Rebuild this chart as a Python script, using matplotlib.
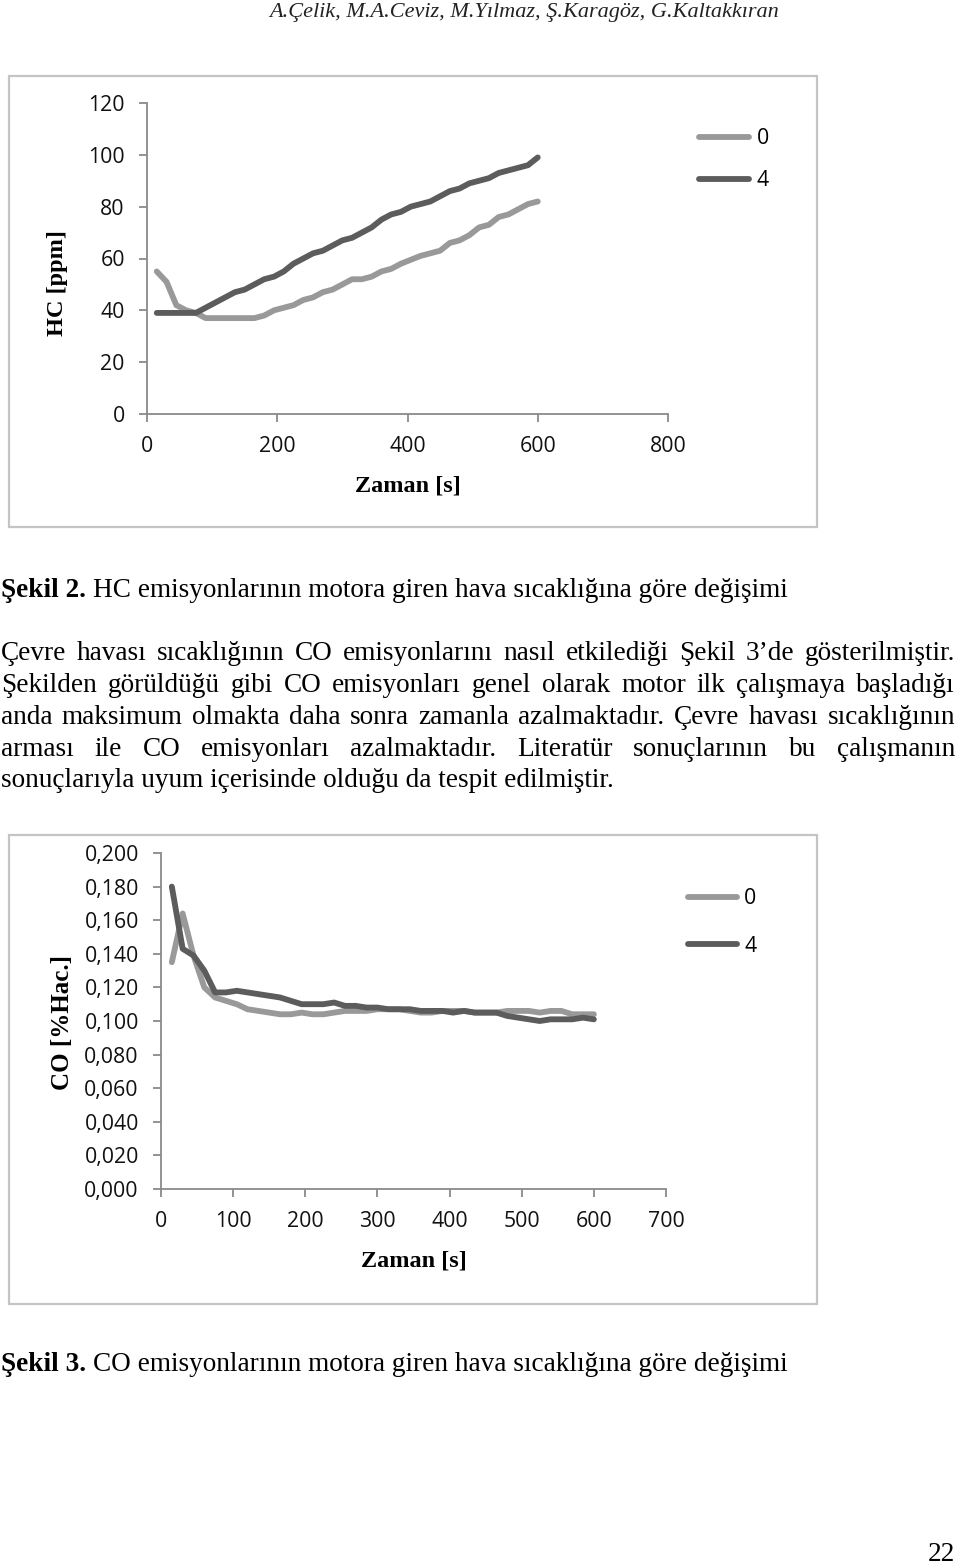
import matplotlib
matplotlib.use("Agg")
import matplotlib.pyplot as plt
from matplotlib.patches import Rectangle

# ---------------- data ----------------
time_s = [15, 30, 45, 60, 75, 90, 105, 120, 135, 150, 165, 180, 195, 210, 225,
          240, 255, 270, 285, 300, 315, 330, 345, 360, 375, 390, 405, 420, 435,
          450, 465, 480, 495, 510, 525, 540, 555, 570, 585, 600]

hc_0 = [55, 51, 42, 40, 39, 37, 37, 37, 37, 37, 37, 38, 40, 41, 42, 44, 45, 47,
        48, 50, 52, 52, 53, 55, 56, 58, 59.5, 61, 62, 63, 66, 67, 69, 72, 73, 76,
        77, 79, 81, 82]
hc_4 = [39, 39, 39, 39, 39, 41, 43, 45, 47, 48, 50, 52, 53, 55, 58, 60, 62, 63,
        65, 67, 68, 70, 72, 75, 77, 78, 80, 81, 82, 84, 86, 87, 89, 90, 91, 93,
        94, 95, 96, 99]

co_0 = [0.135, 0.164, 0.139, 0.120, 0.114, 0.112, 0.110, 0.107, 0.106, 0.105,
        0.104, 0.104, 0.105, 0.104, 0.104, 0.105, 0.106, 0.106, 0.106, 0.107,
        0.107, 0.107, 0.106, 0.105, 0.105, 0.106, 0.106, 0.106, 0.105, 0.105,
        0.105, 0.106, 0.106, 0.106, 0.105, 0.106, 0.106, 0.104, 0.104, 0.104]
co_4 = [0.180, 0.143, 0.139, 0.130, 0.117, 0.117, 0.118, 0.117, 0.116, 0.115,
        0.114, 0.112, 0.110, 0.110, 0.110, 0.111, 0.109, 0.109, 0.108, 0.108,
        0.107, 0.107, 0.107, 0.106, 0.106, 0.106, 0.105, 0.106, 0.105, 0.105,
        0.105, 0.103, 0.102, 0.101, 0.100, 0.101, 0.101, 0.101, 0.102, 0.101]

series_labels = ["0", "4"]

hc_xticks = [0, 200, 400, 600, 800]
hc_yticks = [0, 20, 40, 60, 80, 100, 120]
co_xticks = [0, 100, 200, 300, 400, 500, 600, 700]
co_yticks = [0.0, 0.02, 0.04, 0.06, 0.08, 0.10, 0.12, 0.14, 0.16, 0.18, 0.20]
co_yticklabels = ["0,000", "0,020", "0,040", "0,060", "0,080", "0,100",
                  "0,120", "0,140", "0,160", "0,180", "0,200"]

header = "A.Çelik, M.A.Ceviz, M.Yılmaz, Ş.Karagöz, G.Kaltakkıran"
cap2_bold = "Şekil 2."
cap2_rest = "HC emisyonlarının motora giren hava sıcaklığına göre değişimi"
cap3_bold = "Şekil 3."
cap3_rest = "CO emisyonlarının motora giren hava sıcaklığına göre değişimi"
para_lines = [
    "Çevre havası sıcaklığının CO emisyonlarını nasıl etkilediği Şekil 3’de gösterilmiştir.",
    "Şekilden görüldüğü gibi CO emisyonları genel olarak motor ilk çalışmaya başladığı",
    "anda maksimum olmakta daha sonra zamanla azalmaktadır. Çevre havası sıcaklığının",
    "arması ile CO emisyonları azalmaktadır. Literatür sonuçlarının bu çalışmanın",
    "sonuçlarıyla uyum içerisinde olduğu da tespit edilmiştir.",
]
page_no = "22"

# ---------------- styling ----------------
W, H = 960, 1565
LIGHT = "#999999"
DARK = "#5c5c5c"
AXC = "#8a8a8a"
BOXC = "#c4c4c4"
SERIF = "Liberation Serif"
SANS = "Open Sans"
TICK_FS = 15.3
BODY_FS = 19.6
LW = 4.2

fig = plt.figure(figsize=(W / 100, H / 100), dpi=100)
renderer = fig.canvas.get_renderer()


def fx(px):
    return px / W


def fy(py):
    return 1 - py / H


def add_box(x0, y0, x1, y1):
    fig.patches.append(Rectangle((fx(x0), fy(y1)), fx(x1) - fx(x0), fy(y0) - fy(y1),
                                 transform=fig.transFigure, fill=False,
                                 edgecolor=BOXC, linewidth=1.6, zorder=0))


def make_axes(l, t, r, b):
    ax = fig.add_axes([fx(l), fy(b), fx(r) - fx(l), fy(t) - fy(b)])
    for s in ("top", "right"):
        ax.spines[s].set_visible(False)
    for s in ("left", "bottom"):
        ax.spines[s].set_color(AXC)
        ax.spines[s].set_linewidth(1.3)
    ax.tick_params(direction="out", length=6, width=1.3, color=AXC,
                   labelsize=TICK_FS, labelcolor="#111111", pad=10)
    return ax


def style_ticklabels(ax):
    for lab in ax.get_xticklabels() + ax.get_yticklabels():
        lab.set_fontfamily(SANS)
        lab.set_fontsize(TICK_FS)


line_kw = dict(lw=LW, solid_joinstyle="round", solid_capstyle="round")

# ---------------- HC chart ----------------
add_box(9, 76, 817, 527)
ax1 = make_axes(147, 103, 668, 414)
ax1.plot(time_s, hc_0, color=LIGHT, label=series_labels[0], **line_kw)
ax1.plot(time_s, hc_4, color=DARK, label=series_labels[1], **line_kw)
ax1.set_xlim(0, 800)
ax1.set_ylim(0, 120)
ax1.set_xticks(hc_xticks)
ax1.set_yticks(hc_yticks)
style_ticklabels(ax1)
ax1.set_xlabel("Zaman [s]", fontfamily=SERIF, fontweight="bold", fontsize=17.5,
               labelpad=13)
ax1.set_ylabel("HC [ppm]", fontfamily=SERIF, fontweight="bold", fontsize=17.5,
               va="center")
ax1.yaxis.set_label_coords((57 - 147) / 521, (414 - 283) / 311)
ax1.legend(loc="upper left", bbox_to_anchor=(fx(699), fy(128)),
           bbox_transform=fig.transFigure, frameon=False,
           handlelength=2.35, handletextpad=0.35, labelspacing=1.0,
           borderpad=0, borderaxespad=0,
           prop={"family": SANS, "size": TICK_FS})

# ---------------- CO chart ----------------
add_box(9, 835, 817, 1304)
ax2 = make_axes(161, 853, 666, 1189)
ax2.plot(time_s, co_0, color=LIGHT, label=series_labels[0], **line_kw)
ax2.plot(time_s, co_4, color=DARK, label=series_labels[1], **line_kw)
ax2.set_xlim(0, 700)
ax2.set_ylim(0, 0.2)
ax2.set_xticks(co_xticks)
ax2.set_yticks(co_yticks)
ax2.set_yticklabels(co_yticklabels)
style_ticklabels(ax2)
ax2.set_xlabel("Zaman [s]", fontfamily=SERIF, fontweight="bold", fontsize=17.5,
               labelpad=13)
ax2.set_ylabel("CO [%Hac.]", fontfamily=SERIF, fontweight="bold", fontsize=18,
               va="center")
ax2.yaxis.set_label_coords((62 - 161) / 505, (1189 - 1022) / 336)
ax2.legend(loc="upper left", bbox_to_anchor=(fx(688), fy(888)),
           bbox_transform=fig.transFigure, frameon=False,
           handlelength=2.3, handletextpad=0.35, labelspacing=1.25,
           borderpad=0, borderaxespad=0,
           prop={"family": SANS, "size": TICK_FS})

# ---------------- page text ----------------
fig.text(fx(524), fy(13), header, fontfamily=SERIF, fontstyle="italic",
         fontsize=16, ha="center", va="center", color="#222222")


def text_width(t):
    return t.get_window_extent(renderer).width


def caption(y, bold, rest):
    t = fig.text(fx(1), fy(y), bold, fontfamily=SERIF, fontweight="bold",
                 fontsize=BODY_FS, ha="left", va="baseline")
    w = text_width(t)
    space = BODY_FS * 100 / 72 * 0.25
    fig.text(fx(1 + w + space), fy(y), rest, fontfamily=SERIF,
             fontsize=BODY_FS, ha="left", va="baseline")


def justified(y, line, x0, x1, justify=True):
    if not justify:
        fig.text(fx(x0), fy(y), line, fontfamily=SERIF, fontsize=BODY_FS,
                 ha="left", va="baseline")
        return
    words = line.split(" ")
    texts = [fig.text(0, fy(y), w, fontfamily=SERIF, fontsize=BODY_FS,
                      ha="left", va="baseline") for w in words]
    widths = [text_width(t) for t in texts]
    gap = (x1 - x0 - sum(widths)) / (len(words) - 1)
    x = x0
    for t, w in zip(texts, widths):
        t.set_x(fx(x))
        x += w + gap


caption(597, cap2_bold, cap2_rest)
base_ys = [660, 692, 724, 756, 787]
for i, (yb, ln) in enumerate(zip(base_ys, para_lines)):
    justified(yb, ln, 1, 955, justify=(i < len(para_lines) - 1))
caption(1371, cap3_bold, cap3_rest)
fig.text(fx(955), fy(1561), page_no, fontfamily=SERIF, fontsize=BODY_FS,
         ha="right", va="baseline")

fig.savefig("out.png", dpi=100, facecolor="white")
